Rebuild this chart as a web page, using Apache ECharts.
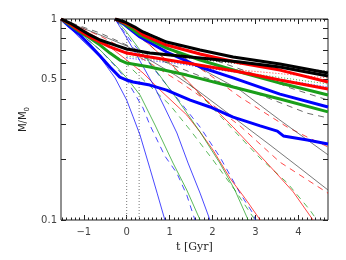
<!DOCTYPE html>
<html>
<head>
<meta charset="utf-8">
<script src="https://cdn.jsdelivr.net/npm/echarts@6/dist/echarts.min.js"></script>
<style>
  html, body { margin: 0; padding: 0; background: #fff; }
  #chart { width: 346px; height: 260px; }
</style>
</head>
<body>
<div id="chart"></div>
<script>
// axis ticks
const xMajorTicks = [-1, 0, 1, 2, 3, 4];
const xMinorTicks = [];
for (let i = -15; i <= 46; i++) xMinorTicks.push(i / 10);
const yTicks = [0.1, 0.2, 0.3, 0.4, 0.5, 0.6, 0.7, 0.8, 0.9, 1];
const yLabels = [0.1, 0.5, 1];

// thick solid curves (A: start -1.53 Gyr, B: start -0.27 Gyr)
const aBlackThick = [[-1.53,1],[-1.32,0.955],[-1.09,0.891],[-0.86,0.833],[-0.62,0.786],[-0.27,0.742],[0,0.709],[0.54,0.677],[1.48,0.647],[2.64,0.611],[3.57,0.577],[4.69,0.52]];
const bBlackThick = [[-0.27,1],[-0.04,0.966],[0.19,0.912],[0.38,0.862],[0.54,0.833],[0.93,0.768],[1.71,0.701],[2.48,0.647],[3.57,0.597],[4.69,0.539]];
const aRedThick = [[-1.53,1],[-1.32,0.944],[-1.09,0.872],[-0.86,0.814],[-0.62,0.768],[-0.39,0.726],[0,0.677],[0.54,0.647],[1.40,0.604],[2.64,0.545],[3.57,0.497],[4.69,0.448]];
const bRedThick = [[-0.27,1],[-0.04,0.955],[0.19,0.902],[0.38,0.833],[0.93,0.742],[1.71,0.670],[2.64,0.604],[3.57,0.557],[4.69,0.486]];
const aGreenThick = [[-1.53,1],[-1.32,0.934],[-1.09,0.862],[-0.86,0.804],[-0.62,0.742],[-0.39,0.677],[-0.16,0.625],[0,0.604],[0.54,0.577],[1.40,0.526],[2.48,0.459],[3.57,0.40],[4.69,0.345]];
const bGreenThick = [[-0.27,1],[-0.04,0.944],[0.31,0.833],[0.93,0.717],[1.71,0.625],[2.64,0.545],[3.57,0.480],[4.69,0.419]];
const aBlueThick = [[-1.53,1],[-1.32,0.912],[-1.09,0.833],[-0.86,0.742],[-0.62,0.654],[-0.39,0.577],[-0.16,0.514],[0,0.497],[0.15,0.486],[0.54,0.469],[0.93,0.443],[1.48,0.395],[1.94,0.365],[2.48,0.325],[3.11,0.294],[3.51,0.277],[3.65,0.262],[4.21,0.250],[4.69,0.239]];
const bBlueThick = [[-0.27,1],[-0.04,0.934],[0.31,0.814],[0.93,0.685],[1.71,0.577],[2.48,0.509],[3.57,0.423],[4.69,0.365]];

// thin solid curves
const aBlackThin = [[-1.53,1],[-1.09,0.912],[-0.62,0.833],[0,0.734],[0.54,0.625],[1.13,0.526],[1.64,0.443],[2.48,0.325],[3.34,0.236],[4.04,0.181],[4.69,0.141]];
const bBlackThin = [[-0.27,1],[0.08,0.923],[0.54,0.814],[1.13,0.685],[1.71,0.570],[2.64,0.443],[3.57,0.314],[4.69,0.211]];
const aRedThin = [[-1.53,1],[-1.09,0.902],[-0.62,0.795],[-0.39,0.726],[0,0.625],[0.38,0.539],[0.78,0.443],[1.40,0.333],[1.71,0.274],[2.01,0.223],[2.41,0.161],[2.76,0.128],[3.11,0.1]];
const bRedThin = [[-0.27,1],[0.08,0.891],[0.54,0.742],[1.13,0.570],[1.71,0.423],[2.48,0.290],[3.27,0.192],[3.88,0.138],[4.34,0.1]];
const aGreenThin = [[-1.53,1],[-1.09,0.852],[-0.62,0.701],[-0.27,0.590],[0,0.509],[0.31,0.419],[0.66,0.297],[1.08,0.192],[1.40,0.141],[1.71,0.1]];
const bGreenThin = [[-0.27,1],[-0.04,0.882],[0.31,0.701],[0.78,0.520],[1.24,0.382],[1.71,0.274],[2.17,0.192],[2.52,0.141],[2.83,0.1]];
const aBlueThin = [[-1.53,1],[-1.09,0.804],[-0.62,0.647],[-0.27,0.509],[0,0.395],[0.15,0.326],[0.31,0.265],[0.54,0.181],[0.71,0.136],[0.89,0.1]];
const bBlueThin = [[-0.27,1],[-0.04,0.833],[0.19,0.685],[0.43,0.557],[0.66,0.454],[0.89,0.361],[1.17,0.271],[1.43,0.192],[1.71,0.136],[1.94,0.1]];

// dashed curves
const aBlackDash = [[-1.53,1],[-1.09,0.923],[-0.62,0.852],[0,0.742],[0.78,0.625],[1.71,0.520],[2.94,0.433],[4.20,0.340],[4.69,0.322]];
const bBlackDash = [[-0.27,1],[0.08,0.934],[0.54,0.842],[1.24,0.726],[2.17,0.611],[3.11,0.520],[3.81,0.454],[4.69,0.395]];
const aRedDash = [[-1.53,1],[-1.09,0.912],[-0.62,0.823],[0,0.701],[0.54,0.604],[1.24,0.486],[1.94,0.382],[2.64,0.294],[3.57,0.194],[4.69,0.136]];
const bRedDash = [[-0.27,1],[0.08,0.912],[0.54,0.814],[1.24,0.662],[1.94,0.526],[2.64,0.409],[3.74,0.290],[4.20,0.259],[4.69,0.231]];
const aGreenDash = [[-1.53,1],[-1.09,0.872],[-0.62,0.742],[0,0.597],[0.54,0.464],[1.01,0.373],[1.48,0.280],[2.01,0.199],[2.52,0.141],[2.99,0.1]];
const bGreenDash = [[-0.27,1],[0.08,0.882],[0.54,0.742],[1.24,0.532],[1.94,0.373],[2.64,0.259],[3.11,0.203],[3.74,0.153],[4.27,0.112],[4.43,0.1]];
const aBlueDash = [[-1.53,1],[-1.09,0.852],[-0.62,0.701],[-0.27,0.584],[0,0.497],[0.38,0.361],[0.54,0.297],[0.89,0.208],[1.17,0.171],[1.40,0.133],[1.59,0.1]];
const bBlueDash = [[-0.27,1],[0.08,0.786],[0.47,0.625],[1.08,0.428],[1.71,0.290],[2.17,0.206],[2.41,0.167],[2.64,0.136],[2.94,0.108],[3.0,0.1]];

// dotted curves
const blackDot = [[0,0.701],[1.24,0.647],[2.64,0.597],[4.69,0.551]];
const redDot = [[0,0.670],[1.24,0.611],[2.64,0.557],[4.69,0.509]];
const greenDot = [[0,0.654],[1.24,0.604],[2.64,0.545],[4.69,0.475]];
const blueDot = [[0,0.640],[1.24,0.597],[2.64,0.539],[4.69,0.459]];

// vertical markers
const marker0 = [[0,0.1],[0,0.865]];
const marker1 = [[0.29,0.1],[0.29,0.59]];

const BLACK = '#000000', RED = '#ff0000', GREEN = '#1a9e1a', BLUE = '#0000ff';

function curve(data, color, width, type, z, opacity) {
  return {
    type: 'line', data: data, showSymbol: false, symbol: 'none', silent: true,
    lineStyle: { color: color, width: width, type: type, cap: 'butt', opacity: opacity || 1 }, z: z
  };
}

const chart = echarts.init(document.getElementById('chart'), null, { renderer: 'canvas' });

const fmtX = v => String(v).replace('-', '\u2212');

const baseX = { type: 'value', min: -1.53, max: 4.69, splitLine: { show: false }, axisLine: { show: false, onZero: false } };
const baseY = { type: 'log', logBase: 10, min: 0.1, max: 1, splitLine: { show: false }, axisLine: { show: false, onZero: false } };

const option = {
  animation: false,
  backgroundColor: '#fff',
  grid: { left: 61, right: 18, top: 19, bottom: 40, show: true, borderColor: '#222', borderWidth: 1, backgroundColor: 'transparent' },
  xAxis: [
    Object.assign({}, baseX, {
      position: 'bottom',
      name: 't [Gyr]', nameLocation: 'middle', nameGap: 21,
      nameTextStyle: { fontFamily: 'DejaVu Serif', fontSize: 11, color: '#222' },
      axisTick: { inside: true, length: 5, customValues: xMajorTicks, lineStyle: { color: '#222' } },
      axisLabel: { customValues: xMajorTicks, formatter: fmtX, margin: 7, fontFamily: 'DejaVu Sans', fontSize: 10, color: '#444' }
    }),
    Object.assign({}, baseX, {
      position: 'bottom',
      axisTick: { inside: true, length: 2.5, customValues: xMinorTicks, lineStyle: { color: '#222' } },
      axisLabel: { show: false }
    }),
    Object.assign({}, baseX, {
      position: 'top',
      axisTick: { inside: true, length: 5, customValues: xMajorTicks, lineStyle: { color: '#222' } },
      axisLabel: { show: false }
    }),
    Object.assign({}, baseX, {
      position: 'top',
      axisTick: { inside: true, length: 2.5, customValues: xMinorTicks, lineStyle: { color: '#222' } },
      axisLabel: { show: false }
    })
  ],
  yAxis: [
    Object.assign({}, baseY, {
      position: 'left',
      name: 'M/M{s|0}', nameLocation: 'middle', nameGap: 28, nameRotate: 90,
      nameTextStyle: { fontFamily: 'DejaVu Sans', fontSize: 10, color: '#222', rich: { s: { fontSize: 7, verticalAlign: 'bottom', padding: [6, 0, 0, 0] } } },
      axisTick: { inside: true, length: 5, customValues: yTicks, lineStyle: { color: '#222' } },
      axisLabel: { customValues: yLabels, margin: 4, fontFamily: 'DejaVu Sans', fontSize: 10, color: '#444' }
    }),
    Object.assign({}, baseY, {
      position: 'right',
      axisTick: { inside: true, length: 5, customValues: yTicks, lineStyle: { color: '#222' } },
      axisLabel: { show: false }
    })
  ],
  series: [
    curve(marker0, '#777', 1, [1, 2], 1),
    curve(marker1, '#777', 1, [1, 2], 1),
    curve(blackDot, BLACK, 1, [1, 2], 2, 0.8),
    curve(redDot, RED, 1, [1, 2], 2, 0.8),
    curve(greenDot, GREEN, 1, [1, 2], 2, 0.8),
    curve(blueDot, BLUE, 1, [1, 2], 2, 0.8),
    curve(aBlackDash, '#333', 0.9, [6, 5], 3, 0.8),
    curve(bBlackDash, '#333', 0.9, [6, 5], 3, 0.8),
    curve(aRedDash, RED, 0.9, [6, 5], 3, 0.8),
    curve(bRedDash, RED, 0.9, [6, 5], 3, 0.8),
    curve(aGreenDash, GREEN, 0.9, [6, 5], 3, 0.8),
    curve(bGreenDash, GREEN, 0.9, [6, 5], 3, 0.8),
    curve(aBlueDash, BLUE, 0.9, [6, 5], 3, 0.8),
    curve(bBlueDash, BLUE, 0.9, [6, 5], 3, 0.8),
    curve(aBlackThin, '#444', 0.9, 'solid', 4, 0.8),
    curve(bBlackThin, '#444', 0.9, 'solid', 4, 0.8),
    curve(aRedThin, RED, 0.9, 'solid', 4, 0.8),
    curve(bRedThin, RED, 0.9, 'solid', 4, 0.8),
    curve(aGreenThin, GREEN, 0.9, 'solid', 4, 0.8),
    curve(bGreenThin, GREEN, 0.9, 'solid', 4, 0.8),
    curve(aBlueThin, BLUE, 0.9, 'solid', 4, 0.8),
    curve(bBlueThin, BLUE, 0.9, 'solid', 4, 0.8),
    curve(aBlueThick, BLUE, 3, 'solid', 5),
    curve(bBlueThick, BLUE, 3, 'solid', 5),
    curve(aGreenThick, GREEN, 3, 'solid', 5),
    curve(bGreenThick, GREEN, 3, 'solid', 5),
    curve(aRedThick, RED, 3, 'solid', 5),
    curve(bRedThick, RED, 3, 'solid', 5),
    curve(aBlackThick, BLACK, 3, 'solid', 5),
    curve(bBlackThick, BLACK, 3, 'solid', 5)
  ]
};

chart.setOption(option);
</script>
</body>
</html>
